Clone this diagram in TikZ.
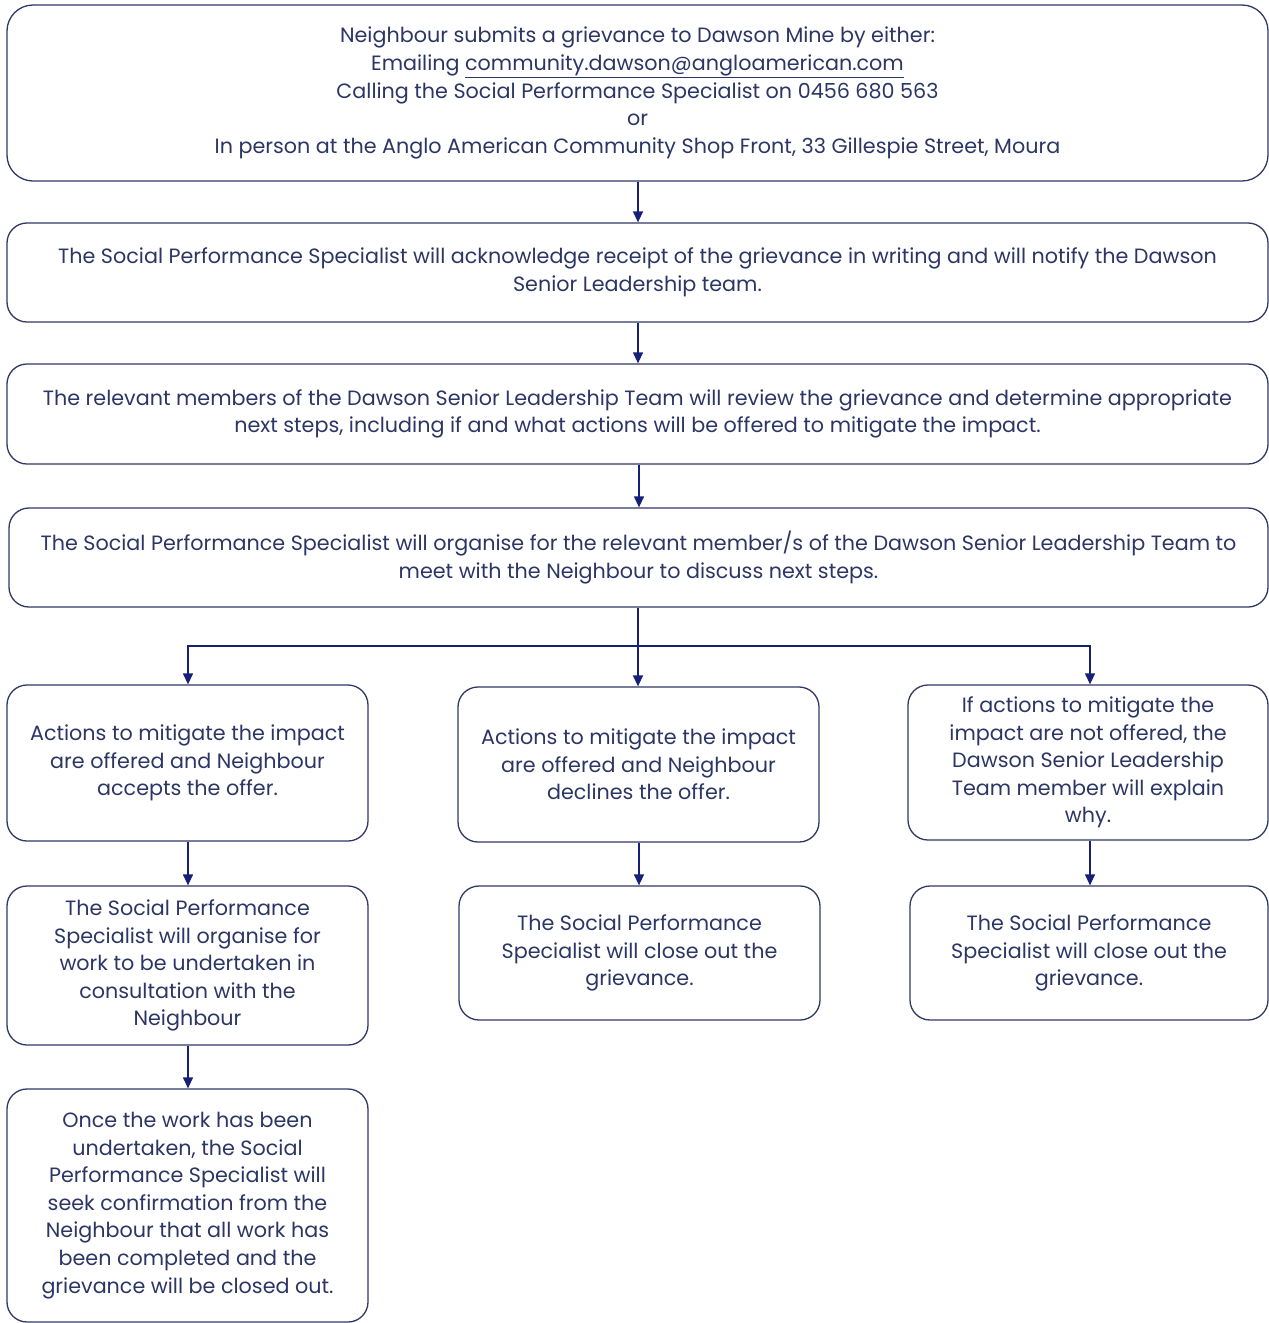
\documentclass[tikz,border=0pt]{standalone}
\usepackage{fontspec}
\setmainfont{Poppins}
\usetikzlibrary{arrows.meta}
\definecolor{txtc}{RGB}{44,54,100}
\definecolor{edgec}{RGB}{48,56,102}
\definecolor{arrc}{RGB}{22,32,118}
\tikzset{
  box/.style={draw=edgec, line width=1.3pt, rounded corners=20pt, text=txtc, align=center, inner sep=0pt, font=\fontsize{20.7}{27.6}\selectfont},
  arr/.style={draw=arrc, line width=1.3pt, -{Triangle[width=10pt,length=11pt]}},
  ln/.style={draw=arrc, line width=1.3pt}
}
\begin{document}
\begin{tikzpicture}[x=1pt,y=-1pt]
\useasboundingbox (0,0) rectangle (1269,1323);
\node[box, rounded corners=26pt, minimum width=1261pt, minimum height=176pt] (b1) at (637.5,93)
 {Neighbour submits a grievance to Dawson Mine by either:\\
  Emailing \underline{community.dawson@angloamerican.com}\\
  Calling the Social Performance Specialist on 0456 680 563\\
  or\\
  In person at the Anglo American Community Shop Front, 33 Gillespie Street, Moura};
\node[box, minimum width=1261pt, minimum height=99pt] (b2) at (637.5,272.5)
 {The Social Performance Specialist will acknowledge receipt of the grievance in writing and will notify the Dawson\\
  Senior Leadership team.};
\node[box, minimum width=1261pt, minimum height=100pt] (b3) at (637.5,414)
 {The relevant members of the Dawson Senior Leadership Team will review the grievance and determine appropriate\\
  next steps, including if and what actions will be offered to mitigate the impact.};
\node[box, minimum width=1259pt, minimum height=99pt] (b4) at (638.5,557.5)
 {The Social Performance Specialist will organise for the relevant member/s of the Dawson Senior Leadership Team to\\
  meet with the Neighbour to discuss next steps.};
\node[box, minimum width=361pt, minimum height=156pt] (l1) at (187.5,763)
 {Actions to mitigate the impact\\ are offered and Neighbour\\ accepts the offer.};
\node[box, minimum width=361pt, minimum height=155pt] (m1) at (638.5,764.5)
 {Actions to mitigate the impact\\ are offered and Neighbour\\ declines the offer.};
\node[box, minimum width=360pt, minimum height=155pt] (r1) at (1088,762.5)
 {If actions to mitigate the\\ impact are not offered, the\\ Dawson Senior Leadership\\ Team member will explain\\ why.};
\node[box, minimum width=361pt, minimum height=159pt] (l2) at (187.5,965.5)
 {The Social Performance\\ Specialist will organise for\\ work to be undertaken in\\ consultation with the\\ Neighbour};
\node[box, minimum width=361pt, minimum height=134pt] (m2) at (639.5,953)
 {The Social Performance\\ Specialist will close out the\\ grievance.};
\node[box, minimum width=358pt, minimum height=134pt] (r2) at (1089,953)
 {The Social Performance\\ Specialist will close out the\\ grievance.};
\node[box, minimum width=361pt, minimum height=233pt] (l3) at (187.5,1205.5)
 {Once the work has been\\ undertaken, the Social\\ Performance Specialist will\\ seek confirmation from the\\ Neighbour that all work has\\ been completed and the\\ grievance will be closed out.};
\draw[arr] (b1.south -| 638,0) -- (b2.north -| 638,0);
\draw[arr] (b2.south -| 638,0) -- (b3.north -| 638,0);
\draw[arr] (b3.south -| 639,0) -- (b4.north -| 639,0);
\coordinate (j) at (638,646);
\draw[ln] (b4.south -| j) -- (j);
\draw[arr] (j) -| (l1.north -| 188,0);
\draw[arr] (j) -- (m1.north -| j);
\draw[arr] (j) -| (r1.north -| 1090,0);
\draw[arr] (l1.south -| 188,0) -- (l2.north -| 188,0);
\draw[arr] (l2.south -| 188,0) -- (l3.north -| 188,0);
\draw[arr] (m1.south -| 639,0) -- (m2.north -| 639,0);
\draw[arr] (r1.south -| 1090,0) -- (r2.north -| 1090,0);
\end{tikzpicture}
\end{document}
